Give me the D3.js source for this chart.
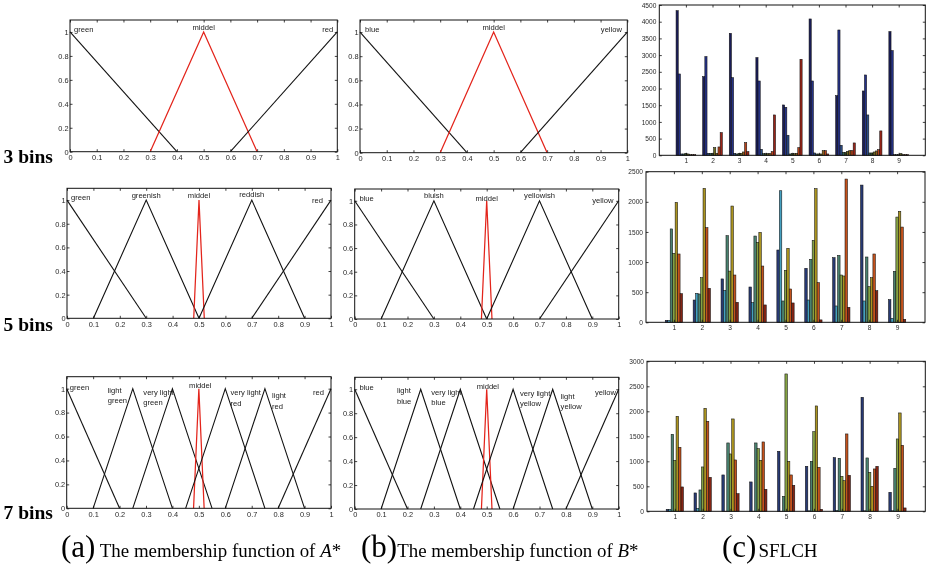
<!DOCTYPE html>
<html><head><meta charset="utf-8">
<script src="https://cdn.jsdelivr.net/npm/d3@7"></script>
<style>body{margin:0;background:#fff}svg{display:block}</style>
</head><body>
<svg id="c" width="928" height="569"><defs><filter id="gs" x="-5%" y="-20%" width="110%" height="140%"><feColorMatrix type="saturate" values="0"/></filter></defs></svg>
<script>
// ---------- DATA ----------
const mfXTicks = [0,0.1,0.2,0.3,0.4,0.5,0.6,0.7,0.8,0.9,1];
const mfXLabels = ["0","0.1","0.2","0.3","0.4","0.5","0.6","0.7","0.8","0.9","1"];
const mfYTicks = [0,0.2,0.4,0.6,0.8,1];
const mfYLabels = ["0","0.2","0.4","0.6","0.8","1"];

// triangles [left foot, peak, right foot]
const mf3 = [[0,0,0.4],[0.3,0.5,0.7],[0.6,1,1]];
const mf5 = [[0,0,0.3],[0.1,0.3,0.5],[0.48,0.5,0.52],[0.5,0.7,0.9],[0.7,1,1]];
const mf7 = [[0,0,0.2],[0.1,0.25,0.4],[0.25,0.4,0.55],[0.48,0.5,0.52],[0.45,0.6,0.75],[0.6,0.75,0.9],[0.8,1,1]];
const middleIdx3 = 1, middleIdx5 = 2, middleIdx7 = 3;

const namesA3 = ["green","middel","red"];
const namesB3 = ["blue","middel","yellow"];
const namesA5 = ["green","greenish","middel","reddish","red"];
const namesB5 = ["blue","bluish","middel","yellowish","yellow"];
const namesA7 = ["green","light\ngreen","very light\ngreen","middel","very light\nred","light\nred","red"];
const namesB7 = ["blue","light\nblue","very light\nblue","middel","very light\nyellow","light\nyellow","yellow"];

const rowLabels = ["3 bins","5 bins","7 bins"];

const groups = [1,2,3,4,5,6,7,8,9];
const sflch3 = [
  [4330,2435,40,40,60,40,20,20,20],
  [2355,2954,60,60,60,230,60,250,680],
  [3652,2325,60,40,60,60,100,380,110],
  [2924,2225,180,50,50,50,50,110,1208],
  [1507,1437,600,40,50,50,60,230,2874],
  [4082,2225,70,40,40,40,140,140,40],
  [1786,3752,300,90,90,120,140,140,370],
  [1926,2405,1208,70,70,100,130,170,730],
  [3703,3134,20,20,20,50,20,20,20]
];
const sflch5 = [
  [33,33,1550,1145,1990,1134,475],
  [370,481,470,740,2223,1570,564],
  [720,530,1438,850,1930,785,332],
  [586,326,1432,1327,1493,934,288],
  [1200,2184,354,863,1228,553,321],
  [896,370,1045,1360,2218,658,40],
  [1073,271,1111,785,769,2378,249],
  [2278,354,1084,592,741,1134,525],
  [376,66,846,1747,1841,1581,50]
];
const sflch7 = [
  [40,40,1540,1020,1900,1280,487],
  [367,60,427,887,2060,1800,680],
  [727,0,1367,1147,1847,1027,353],
  [587,0,1367,1253,1020,1387,440],
  [1200,0,300,2747,1000,727,520],
  [900,10,1000,1593,2107,880,40],
  [1073,20,1060,700,613,1547,720],
  [2280,10,1067,780,500,847,900],
  [380,10,860,1447,1967,1320,67]
];
const yTicks3 = [0,500,1000,1500,2000,2500,3000,3500,4000,4500];
const yTicks5 = [0,500,1000,1500,2000,2500];
const yTicks7 = [0,500,1000,1500,2000,2500,3000];

// ---------- STYLE / LAYOUT ----------
const colors9 = ["#1a1d58","#253288","#2c4c86","#2d6357","#4a662a","#6c6c20","#8c621a","#b8421a","#9a2418"];
const colors7 = ["#283a74","#44a0c0","#4a8270","#84a244","#ab9420","#c4521c","#842414"];

const svg = d3.select("#c");
const sans = "'Liberation Sans', Arial, Helvetica, sans-serif";
const serif = "'Liberation Serif', 'Times New Roman', Times, 'Nimbus Roman', 'DejaVu Serif', serif";

function box(g, x0, x1, y0, y1){
  g.append("rect").attr("x",x0).attr("y",y0).attr("width",x1-x0).attr("height",y1-y0)
   .attr("fill","none").attr("stroke","#111").attr("stroke-width",1);
}
function styleAxis(sel, fs){
  sel.select(".domain").remove();
  sel.selectAll(".tick line").attr("stroke","#111").attr("stroke-width",0.8);
  sel.selectAll(".tick text").attr("fill","#2a2a2a").style("font-family",sans).style("font-size",fs+"px");
}

function drawMF(b, mf, midIdx, names, place){
  const g = svg.append("g");
  const x = d3.scaleLinear().domain([0,1]).range([b.x0,b.x1]);
  const y = d3.scaleLinear().domain([0,1.1]).range([b.y1,b.y0]);
  g.append("g").attr("transform",`translate(0,${b.y1})`)
    .call(d3.axisBottom(x).tickValues(mfXTicks).tickFormat((d,i)=>mfXLabels[i]).tickSize(-2.5).tickPadding(3))
    .call(s=>styleAxis(s,7.4));
  g.append("g").attr("transform",`translate(0,${b.y0})`)
    .call(d3.axisTop(x).tickValues(mfXTicks).tickFormat("").tickSize(-2.5)).call(s=>styleAxis(s,7));
  g.append("g").attr("transform",`translate(${b.x0},0)`)
    .call(d3.axisLeft(y).tickValues(mfYTicks).tickFormat((d,i)=>mfYLabels[i]).tickSize(-2.5).tickPadding(1.5))
    .call(s=>styleAxis(s,7.4));
  g.append("g").attr("transform",`translate(${b.x1},0)`)
    .call(d3.axisRight(y).tickValues(mfYTicks).tickFormat("").tickSize(-2.5)).call(s=>styleAxis(s,7));
  const line = d3.line().x(d=>x(d[0])).y(d=>y(d[1]));
  mf.forEach((t,i)=>{
    let pts;
    if (t[0]===t[1]) pts=[[t[1],1],[t[2],0]];
    else if (t[1]===t[2]) pts=[[t[0],0],[t[1],1]];
    else pts=[[t[0],0],[t[1],1],[t[2],0]];
    g.append("path").attr("d",line(pts)).attr("fill","none")
      .attr("stroke", i===midIdx ? "#e3241b" : "#111")
      .attr("stroke-width", i===midIdx ? 1.25 : 1.1);
  });
  box(g,b.x0,b.x1,b.y0,b.y1);
  names.forEach((n,i)=>{
    const p = place[i];
    n.split("\n").forEach((ln,k)=>{
      g.append("text").attr("x",x(p[0])).attr("y",y(p[1])+k*10.5)
        .attr("text-anchor",p[2]).attr("fill","#1a1a1a")
        .style("font-family",sans).style("font-size","7.6px").text(ln);
    });
  });
}

function drawBars(b, data, ticks, colors, gw){
  const g = svg.append("g");
  const x = d3.scaleLinear().domain([0,10]).range([b.x0,b.x1]);
  const y = d3.scaleLinear().domain([0,ticks[ticks.length-1]]).range([b.y1,b.y0]);
  const n = data[0].length;
  const inner = d3.scaleBand().domain(d3.range(n)).range([-gw/2, gw/2]).paddingInner(0);
  groups.forEach((gv,gi)=>{
    data[gi].forEach((v,bi)=>{
      const x0 = x(gv + inner(bi));
      const x1 = x(gv + inner(bi) + inner.bandwidth());
      g.append("rect").attr("x",x0).attr("y",y(v)).attr("width",x1-x0)
        .attr("height",Math.max(0.01,y(0)-y(v)))
        .attr("fill",colors[bi]).attr("stroke","#111").attr("stroke-width",0.55);
    });
  });
  g.append("g").attr("transform",`translate(0,${b.y1})`)
    .call(d3.axisBottom(x).tickValues(groups).tickFormat(d=>String(d)).tickSize(-2.5).tickPadding(3.5))
    .call(s=>styleAxis(s,6.6));
  g.append("g").attr("transform",`translate(0,${b.y0})`)
    .call(d3.axisTop(x).tickValues(groups).tickFormat("").tickSize(-2.5)).call(s=>styleAxis(s,6.6));
  g.append("g").attr("transform",`translate(${b.x0},0)`)
    .call(d3.axisLeft(y).tickValues(ticks).tickFormat(d=>String(d)).tickSize(-2.5).tickPadding(3))
    .call(s=>styleAxis(s,6.6));
  g.append("g").attr("transform",`translate(${b.x1},0)`)
    .call(d3.axisRight(y).tickValues(ticks).tickFormat("").tickSize(-2.5)).call(s=>styleAxis(s,6.6));
  box(g,b.x0,b.x1,b.y0,b.y1);
}

// label placements [x, y baseline, anchor] in data coords
const placeA3 = [[0.015,1.0,"start"],[0.5,1.017,"middle"],[0.985,1.0,"end"]];
const placeB3 = [[0.019,1.0,"start"],[0.5,1.017,"middle"],[0.98,1.0,"end"]];
const placeA5 = [[0.015,1.005,"start"],[0.3,1.02,"middle"],[0.5,1.015,"middle"],[0.7,1.03,"middle"],[0.97,0.975,"end"]];
const placeB5 = [[0.018,0.995,"start"],[0.3,1.02,"middle"],[0.5,1.0,"middle"],[0.7,1.02,"middle"],[0.98,0.985,"end"]];
const placeA7 = [[0.012,0.99,"start"],[0.155,0.965,"start"],[0.29,0.95,"start"],[0.463,1.005,"start"],[0.62,0.945,"start"],[0.777,0.92,"start"],[0.973,0.95,"end"]];
const placeB7 = [[0.018,0.99,"start"],[0.16,0.965,"start"],[0.29,0.955,"start"],[0.462,1.005,"start"],[0.626,0.945,"start"],[0.78,0.92,"start"],[0.99,0.95,"end"]];

drawMF({x0:70,x1:337.3,y0:20,y1:151.7}, mf3, middleIdx3, namesA3, placeA3);
drawMF({x0:360,x1:627.3,y0:20,y1:152.7}, mf3, middleIdx3, namesB3, placeB3);
drawMF({x0:67,x1:331,y0:188.3,y1:318.3}, mf5, middleIdx5, namesA5, placeA5);
drawMF({x0:354.7,x1:618.7,y0:189,y1:319}, mf5, middleIdx5, namesB5, placeB5);
drawMF({x0:66.7,x1:331,y0:376.7,y1:508.3}, mf7, middleIdx7, namesA7, placeA7);
drawMF({x0:354.7,x1:618.7,y0:377.3,y1:509}, mf7, middleIdx7, namesB7, placeB7);

drawBars({x0:659.3,x1:925.3,y0:5,y1:155.3}, sflch3, yTicks3, colors9, 0.74);
drawBars({x0:646,x1:925,y0:171.7,y1:322.3}, sflch5, yTicks5, colors7, 0.62);
drawBars({x0:647,x1:925.3,y0:361.3,y1:511.3}, sflch7, yTicks7, colors7, 0.62);

// row labels
[163,331,519].forEach((yy,i)=>{
  svg.append("text").attr("x",3.5).attr("y",yy).style("font-family",serif)
    .style("font-weight","bold").style("font-size","19.5px").attr("fill","#000").text(rowLabels[i]);
});

// captions
function caption(x, letter, parts){
  const t = svg.append("text").attr("x",x).attr("y",557).style("font-family",serif).attr("fill","#000");
  t.append("tspan").style("font-size","31px").text("("+letter+")");
  parts.forEach(p=>{
    const s = t.append("tspan").style("font-size",(p.fs||18.9)+"px").text(p.t);
    if (p.i) s.style("font-style","italic");
    if (p.dx) s.attr("dx",p.dx);
  });
}
caption(61,"a",[{t:" The membership function of "},{t:"A",i:true},{t:"*"}]);
caption(361,"b",[{t:"The membership function of "},{t:"B",i:true},{t:"*"}]);
caption(722,"c",[{t:"SFLCH",fs:19,dx:2}]);

svg.selectAll("text").attr("filter","url(#gs)");
</script>
</body></html>
